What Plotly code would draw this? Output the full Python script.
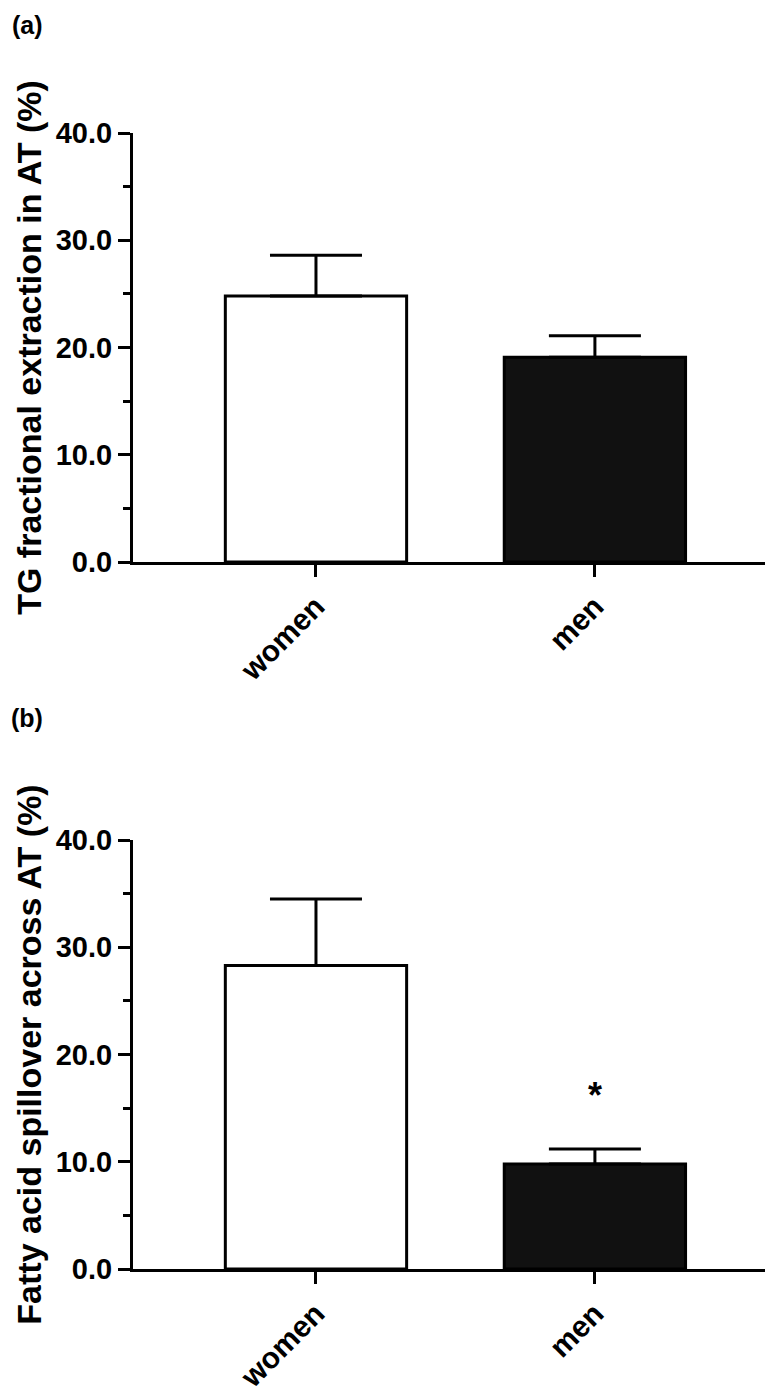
import plotly.graph_objects as go
from plotly.subplots import make_subplots

# data
groups = ["women", "men"]
tg_extraction = [24.8, 19.1]
tg_extraction_sem = [3.8, 2.0]
fa_spillover = [28.3, 9.8]
fa_spillover_sem = [6.2, 1.4]
star_y = 16.2

bar_fill = ["white", "#111111"]
FONT = "Liberation Sans"


def add_panel(fig, row, values, sem):
    fig.add_trace(go.Bar(x=[0, 1], y=values,
                         width=0.65,
                         marker=dict(color=bar_fill, line=dict(color="black", width=3)),
                         error_y=dict(type="data", symmetric=False, array=sem,
                                      arrayminus=[0, 0], color="black",
                                      thickness=3, width=46),
                         showlegend=False),
                  row=row, col=1)


fig = make_subplots(rows=2, cols=1)
add_panel(fig, 1, tg_extraction, tg_extraction_sem)
add_panel(fig, 2, fa_spillover, fa_spillover_sem)

H = 1394
dom_a = [1 - 554 / H, 1 - 125 / H]
dom_b = [1 - 1261 / H, 1 - 832 / H]

xaxis_style = dict(range=[-0.656, 1.66], tickvals=[0, 1], ticktext=groups,
                   tickangle=-45, ticks="outside", ticklen=12, tickwidth=3,
                   tickcolor="black", showline=True, linewidth=3, linecolor="black",
                   showgrid=False, zeroline=False,
                   tickfont=dict(family=FONT, size=30, weight="bold", color="black"))
yaxis_style = dict(range=[0, 40], tickvals=[0, 10, 20, 30, 40], tickformat=".1f",
                   ticks="outside", ticklen=12, tickwidth=3, tickcolor="black",
                   minor=dict(tickvals=[5, 15, 25, 35], ticks="outside", ticklen=7,
                              tickwidth=3, tickcolor="black"),
                   showline=True, linewidth=3, linecolor="black",
                   showgrid=False, zeroline=False,
                   tickfont=dict(family=FONT, size=29, weight="bold", color="black"),
                   title_font=dict(family=FONT, size=34, weight="bold", color="black"),
                   title_standoff=4)

fig.update_xaxes(**xaxis_style)
fig.update_yaxes(**yaxis_style)
fig.update_yaxes(domain=dom_a, title_text="TG fractional extraction in AT (%)", row=1, col=1)
fig.update_yaxes(domain=dom_b, title_text="Fatty acid spillover across AT (%)", row=2, col=1)

# panel letters
for letter, ypx in [("(a)", 17), ("(b)", 710)]:
    fig.add_annotation(text=letter, xref="paper", yref="paper",
                       x=(19 - 125) / 646, y=1 - ypx / H,
                       xanchor="center", yanchor="middle", showarrow=False,
                       font=dict(family=FONT, size=25, weight="bold", color="black"))

# significance mark
fig.add_annotation(text="*", x=1, y=star_y, xref="x2", yref="y2", showarrow=False,
                   yanchor="middle",
                   font=dict(family=FONT, size=36, weight="bold", color="black"))

fig.update_layout(template="none", width=773, height=H,
                  margin=dict(l=125, r=2, t=0, b=0),
                  plot_bgcolor="white", paper_bgcolor="white")

fig.write_html("out.html")
